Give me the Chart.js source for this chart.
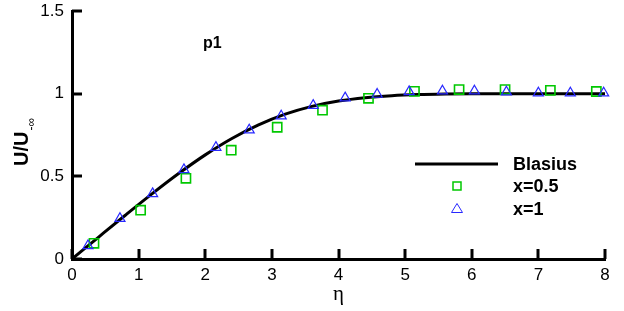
<!DOCTYPE html>
<html>
<head>
<meta charset="utf-8">
<script src="https://cdn.jsdelivr.net/npm/chart.js@4.4.1/dist/chart.umd.min.js"></script>
<style>
  html, body { margin: 0; padding: 0; background: #fff; }
  #wrap { width: 624px; height: 311px; position: relative; }
</style>
</head>
<body>
<div id="wrap"><canvas id="c" width="624" height="311"></canvas></div>
<script>
// Blasius profile f'(eta)
const blasiusEta = [0, 0.4, 0.8, 1.2, 1.6, 2.0, 2.4, 2.8, 3.2, 3.6, 4.0, 4.4, 4.8, 5.2, 5.6, 6.0, 7.0, 8.0];
const blasiusU   = [0, 0.1328, 0.2647, 0.3938, 0.5168, 0.6298, 0.7290, 0.8115, 0.8761, 0.9233, 0.9555, 0.9759, 0.9878, 0.9943, 0.9975, 0.9990, 0.9999, 1.0];

// x = 0.5 (squares)
const x05Eta = [0.33, 1.03, 1.71, 2.39, 3.08, 3.76, 4.45, 5.14, 5.81, 6.50, 7.18, 7.87];
const x05U   = [0.095, 0.295, 0.488, 0.658, 0.797, 0.900, 0.972, 1.014, 1.025, 1.025, 1.020, 1.013];

// x = 1 (triangles)
const x1Eta = [0.24, 0.72, 1.21, 1.68, 2.16, 2.66, 3.14, 3.62, 4.10, 4.58, 5.06, 5.56, 6.04, 6.52, 7.00, 7.48, 7.98];
const x1U   = [0.08, 0.245, 0.395, 0.54, 0.675, 0.78, 0.865, 0.929, 0.974, 0.996, 1.012, 1.016, 1.016, 1.010, 1.004, 1.004, 1.004];

const xTicks = [0, 1, 2, 3, 4, 5, 6, 7, 8];
const yTicks = [0, 0.5, 1, 1.5];
const yTickLabels = ['0', '0.5', '1', '1.5'];

const seriesNames = ['Blasius', 'x=0.5', 'x=1'];
const panelLabel = 'p1';
const xTitle = 'η';
const yTitleMain = 'U/U';
const yTitleSub = '-∞';

const toPts = (xs, ys) => xs.map((v, i) => ({ x: v, y: ys[i] }));

const FONT = '"Liberation Sans", Arial, sans-serif';

const decor = {
  id: 'decor',
  afterDraw(chart) {
    const { ctx, chartArea: a, scales: { x, y } } = chart;
    ctx.save();
    // inward ticks
    ctx.strokeStyle = '#000';
    ctx.lineWidth = 3;
    ctx.lineCap = 'butt';
    xTicks.forEach(v => {
      const px = Math.round(x.getPixelForValue(v));
      ctx.beginPath(); ctx.moveTo(px, a.bottom); ctx.lineTo(px, a.bottom - 10); ctx.stroke();
    });
    yTicks.forEach(v => {
      const py = Math.round(y.getPixelForValue(v));
      ctx.beginPath(); ctx.moveTo(a.left, py); ctx.lineTo(a.left + 10, py); ctx.stroke();
    });

    // y title with subscript
    ctx.fillStyle = '#000';
    ctx.save();
    ctx.translate(28, 166);
    ctx.rotate(-Math.PI / 2);
    ctx.textBaseline = 'alphabetic';
    ctx.textAlign = 'left';
    ctx.font = 'bold 20px ' + FONT;
    ctx.fillText(yTitleMain, 0, 0);
    const w = ctx.measureText(yTitleMain).width;
    ctx.font = '12px ' + FONT;
    ctx.fillText(yTitleSub, w + 1, 7);
    ctx.restore();

    // panel label
    ctx.font = 'bold 16px ' + FONT;
    ctx.textBaseline = 'alphabetic';
    ctx.textAlign = 'left';
    ctx.fillText(panelLabel, 203, 48);

    // legend
    const ds = chart.data.datasets;
    const lx = 513;
    const rows = [164, 186, 209];
    ctx.font = 'bold 18px ' + FONT;
    ctx.textBaseline = 'middle';
    ctx.strokeStyle = ds[0].borderColor;
    ctx.lineWidth = 3;
    ctx.beginPath(); ctx.moveTo(415, rows[0]); ctx.lineTo(498, rows[0]); ctx.stroke();
    ctx.strokeStyle = ds[1].borderColor;
    ctx.lineWidth = 1.5;
    ctx.strokeRect(453, rows[1] - 4, 8, 8);
    ctx.strokeStyle = ds[2].borderColor;
    ctx.lineWidth = 1;
    ctx.beginPath();
    ctx.moveTo(457, rows[2] - 5.5);
    ctx.lineTo(462.5, rows[2] + 3.5);
    ctx.lineTo(451.5, rows[2] + 3.5);
    ctx.closePath();
    ctx.stroke();
    ctx.fillStyle = '#000';
    seriesNames.forEach((n, i) => ctx.fillText(n, lx, rows[i] + 1));
    ctx.restore();
  }
};

new Chart(document.getElementById('c'), {
  type: 'scatter',
  data: {
    datasets: [
      {
        label: seriesNames[0],
        data: toPts(blasiusEta, blasiusU),
        showLine: true,
        borderColor: '#000000',
        borderWidth: 3,
        pointRadius: 0,
        cubicInterpolationMode: 'monotone',
        order: 3
      },
      {
        label: seriesNames[1],
        data: toPts(x05Eta, x05U),
        pointStyle: 'rect',
        pointRadius: 6.5,
        borderColor: '#00c800',
        backgroundColor: 'rgba(0,0,0,0)',
        borderWidth: 1.6,
        clip: false,
        order: 2
      },
      {
        label: seriesNames[2],
        data: toPts(x1Eta, x1U),
        pointStyle: 'triangle',
        pointRadius: 5.8,
        borderColor: '#2828ff',
        backgroundColor: 'rgba(0,0,0,0)',
        borderWidth: 1.2,
        clip: false,
        order: 1
      }
    ]
  },
  options: {
    responsive: false,
    animation: false,
    devicePixelRatio: 1,
    layout: { padding: { top: 11, right: 19, left: 0, bottom: 0 } },
    plugins: { legend: { display: false }, tooltip: { enabled: false } },
    scales: {
      x: {
        type: 'linear',
        min: 0, max: 8,
        afterFit(s) { s.height = 52; s.paddingLeft = 0; s.paddingRight = 0; },
        afterBuildTicks(s) { s.ticks = xTicks.map(v => ({ value: v })); },
        grid: { display: true, drawOnChartArea: false, drawTicks: false },
        border: { display: true, color: '#000', width: 3 },
        ticks: { color: '#000', padding: 6, maxRotation: 0, font: { family: FONT, size: 17 } },
        title: { display: true, text: xTitle, color: '#000', padding: { top: 0, bottom: 4 }, font: { family: '"Liberation Serif", serif', size: 21 } }
      },
      y: {
        type: 'linear',
        min: 0, max: 1.5,
        afterFit(s) { s.width = 72; s.paddingTop = 0; s.paddingBottom = 0; },
        afterBuildTicks(s) { s.ticks = yTicks.map(v => ({ value: v })); },
        grid: { display: true, drawOnChartArea: false, drawTicks: false },
        border: { display: true, color: '#000', width: 3 },
        ticks: {
          color: '#000', padding: 8, font: { family: FONT, size: 17 },
          callback: (v) => { const i = yTicks.indexOf(v); return i >= 0 ? yTickLabels[i] : ''; }
        }
      }
    }
  },
  plugins: [decor]
});
</script>
</body>
</html>
